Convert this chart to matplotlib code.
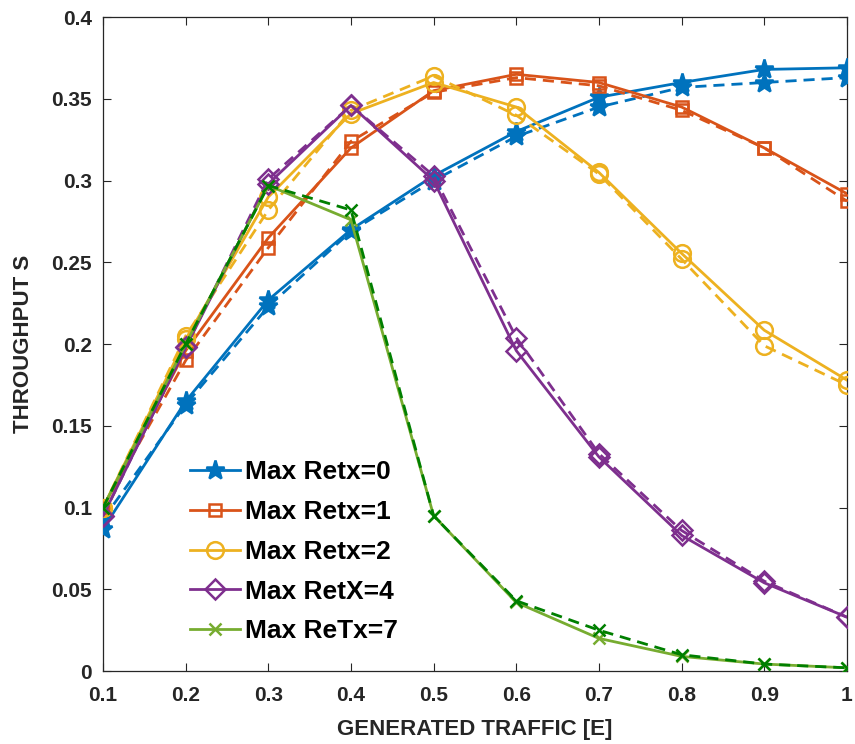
import numpy as np
import matplotlib.pyplot as plt
from matplotlib.ticker import FixedLocator, FixedFormatter

plt.rcParams['font.family'] = ['Liberation Sans', 'DejaVu Sans']
plt.rcParams['font.weight'] = 'bold'

traffic = [0.1, 0.2, 0.3, 0.4, 0.5, 0.6, 0.7, 0.8, 0.9, 1.0]

# analytical (solid) and simulated (dashed) throughput per retx limit
retx0 = [0.087, 0.165, 0.227, 0.270, 0.303, 0.330, 0.351, 0.360, 0.368, 0.369]
retx0_sim = [0.093, 0.163, 0.223, 0.269, 0.300, 0.327, 0.345, 0.357, 0.360, 0.363]
retx1 = [0.100, 0.196, 0.265, 0.320, 0.355, 0.365, 0.360, 0.345, 0.320, 0.292]
retx1_sim = [0.100, 0.190, 0.259, 0.324, 0.354, 0.363, 0.358, 0.343, 0.320, 0.2875]
retx2 = [0.100, 0.203, 0.290, 0.341, 0.360, 0.345, 0.305, 0.2555, 0.2085, 0.178]
retx2_sim = [0.100, 0.205, 0.282, 0.343, 0.364, 0.340, 0.304, 0.252, 0.199, 0.175]
retx4 = [0.095, 0.198, 0.298, 0.346, 0.300, 0.196, 0.131, 0.083, 0.054, 0.033]
retx4_sim = [0.095, 0.198, 0.301, 0.346, 0.303, 0.204, 0.133, 0.086, 0.055, 0.033]
retx7 = [0.100, 0.200, 0.297, 0.276, 0.095, 0.042, 0.020, 0.009, 0.0043, 0.002]
retx7_sim = [0.100, 0.200, 0.297, 0.282, 0.095, 0.043, 0.025, 0.010, 0.0043, 0.002]

labels = ['Max Retx=0', 'Max Retx=1', 'Max Retx=2', 'Max RetX=4', 'Max ReTx=7']

xticks = [0.1, 0.2, 0.3, 0.4, 0.5, 0.6, 0.7, 0.8, 0.9, 1.0]
xticklabels = ['0.1', '0.2', '0.3', '0.4', '0.5', '0.6', '0.7', '0.8', '0.9', '1']
yticks = [0, 0.05, 0.1, 0.15, 0.2, 0.25, 0.3, 0.35, 0.4]
yticklabels = ['0', '0.05', '0.1', '0.15', '0.2', '0.25', '0.3', '0.35', '0.4']

fig = plt.figure(figsize=(8.55, 7.44), dpi=100)
ax = fig.add_axes([0.1205, 0.098, 0.870, 0.879])

styles = [
    (retx0, retx0_sim, '#0072BD', '#0072BD', '*', 14),
    (retx1, retx1_sim, '#D95319', '#D95319', 's', 8),
    (retx2, retx2_sim, '#EDB120', '#EDB120', 'o', 12),
    (retx4, retx4_sim, '#7E2F8E', '#7E2F8E', 'D', 10),
    (retx7, retx7_sim, '#77AC30', '#007F00', 'x', 8),
]

for (solid, sim, c, csim, m, ms), lab in zip(styles, labels):
    filled = m == '*'
    ax.plot(traffic, solid, color=c, lw=2.0, marker=m, ms=ms, mew=1.8,
            mfc=c if filled else 'none', label=lab, zorder=3)
    ax.plot(traffic, sim, color=csim, lw=2.0, ls=(0, (4, 2.5)), marker=m,
            ms=ms, mew=1.8, mfc=csim if filled else 'none', zorder=3)

ax.set_xlim(0.1, 1.0)
ax.set_ylim(0, 0.4)
ax.xaxis.set_major_locator(FixedLocator(xticks))
ax.xaxis.set_major_formatter(FixedFormatter(xticklabels))
ax.yaxis.set_major_locator(FixedLocator(yticks))
ax.yaxis.set_major_formatter(FixedFormatter(yticklabels))
ax.tick_params(direction='in', length=6, width=0.8, top=True, right=True,
               labelsize=15, colors='#262626', pad=8)
ax.tick_params(axis='x', pad=11)
for s in ax.spines.values():
    s.set_color('#262626')
    s.set_linewidth(0.9)

ax.set_xlabel('GENERATED TRAFFIC [E]', fontsize=16, fontweight='bold',
              color='#262626', labelpad=10)
ax.set_ylabel('THROUGHPUT S', fontsize=16, fontweight='bold',
              color='#262626', labelpad=12)

leg = ax.legend(loc='lower left', bbox_to_anchor=(0.085, 0.006), frameon=False,
                prop={'size': 19, 'weight': 'bold'}, numpoints=1,
                handlelength=1.9, handletextpad=0.2, labelspacing=0.6)

fig.savefig('out.png', dpi=100)
